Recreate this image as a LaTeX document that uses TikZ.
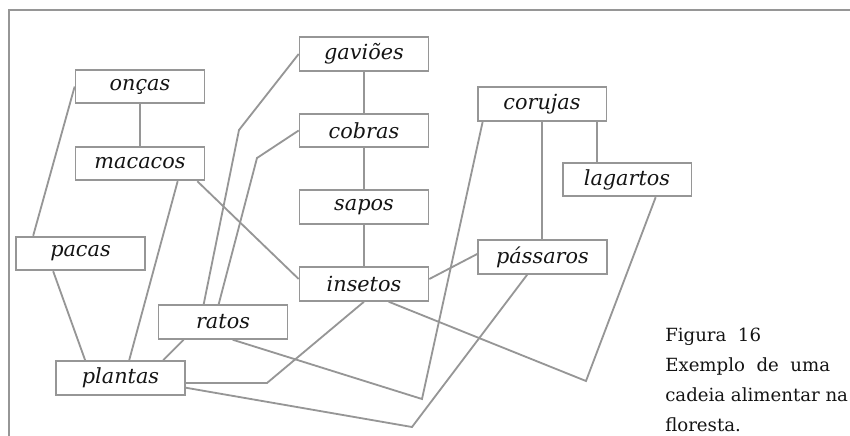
\documentclass[tikz,border=0pt]{standalone}
\usepackage{fontspec}
\setmainfont{DejaVu Serif}
\usetikzlibrary{calc}
\definecolor{linegray}{RGB}{150,150,150}
\definecolor{textdark}{RGB}{20,20,20}

\begin{document}
\begin{tikzpicture}[x=0.025cm, y=-0.025cm,
    animal/.style={rectangle, draw=linegray, line width=1.3pt, minimum width=3.22cm,
      minimum height=0.84cm, inner sep=0pt, text=textdark,
      font=\fontsize{14.8}{18}\selectfont\itshape},
    link/.style={draw=linegray, line width=1.3pt}]
    \useasboundingbox (0,0) rectangle (850,435);
    \draw[link] (9,436) -- (9,10) -- (851,10);

    \node[animal] (oncas)    at (140,86.5) {onças};
    \node[animal] (macacos)  at (140,163.5) {macacos};
    \node[animal] (gavioes)  at (364,54) {gaviões};
    \node[animal] (cobras)   at (364,130.5) {cobras};
    \node[animal] (sapos)    at (364,207) {sapos};
    \node[animal] (insetos)  at (364,284) {insetos};
    \node[animal] (pacas)    at (80.5,253.5) {pacas};
    \node[animal] (ratos)    at (223,322) {ratos};
    \node[animal] (plantas)  at (120.5,378) {plantas};
    \node[animal] (corujas)  at (542,104) {corujas};
    \node[animal] (lagartos) at (627,179.5) {lagartos};
    \node[animal] (passaros) at (542.5,257) {pássaros};

    \foreach \a/\b in {oncas/macacos, gavioes/cobras, cobras/sapos, sapos/insetos} {
        \draw[link] (\a) -- (\b);
    }

    \draw[link] (oncas.west) -- ($(pacas.north west)+(18,0)$);
    \draw[link] ($(pacas.south west)+(38,0)$) -- ($(plantas.north west)+(30,0)$);
    \draw[link] ($(macacos.south west)+(103,0)$) -- ($(plantas.north west)+(74,0)$);
    \draw[link] ($(macacos.south east)+(-8,0)$) -- ($(insetos.west)+(0,-5)$);
    \draw[link] (gavioes.west) -- (239,130) -- ($(ratos.north west)+(46,0)$);
    \draw[link] (cobras.west) -- (257,158) -- ($(ratos.north west)+(61,0)$);
    \draw[link] ($(ratos.south west)+(26,0)$) -- ($(plantas.north west)+(108,0)$);
    \draw[link] (insetos.south) -- (267,383) -- ($(plantas.east)+(0,5)$);
    \draw[link] ($(corujas.south west)+(6,0)$) -- (422,399) -- ($(ratos.south west)+(75,0)$);
    \draw[link] ($(passaros.south west)+(50,0)$) -- (412,427) -- ($(plantas.south east)+(0,-8)$);
    \draw[link] ($(insetos.south west)+(90,0)$) -- (586,381) -- ($(lagartos.south west)+(94,0)$);
    \draw[link] ($(insetos.east)+(0,-5)$) -- ($(passaros.west)+(0,-3)$);
    \draw[link] (corujas.south) -- (corujas.south |- passaros.north);
    \draw[link] ($(corujas.south east)+(-10,0)$) coordinate (cl) -- (cl |- lagartos.north);

    \node[anchor=base west, align=left, inner sep=0pt, text=textdark,
      font=\fontsize{12.9}{21.3}\selectfont] (caption) at (665,431)
      {Figura\ \ 16\\Exemplo\ \ de\ \ uma\\cadeia alimentar na\\floresta.};
\end{tikzpicture}
\end{document}
